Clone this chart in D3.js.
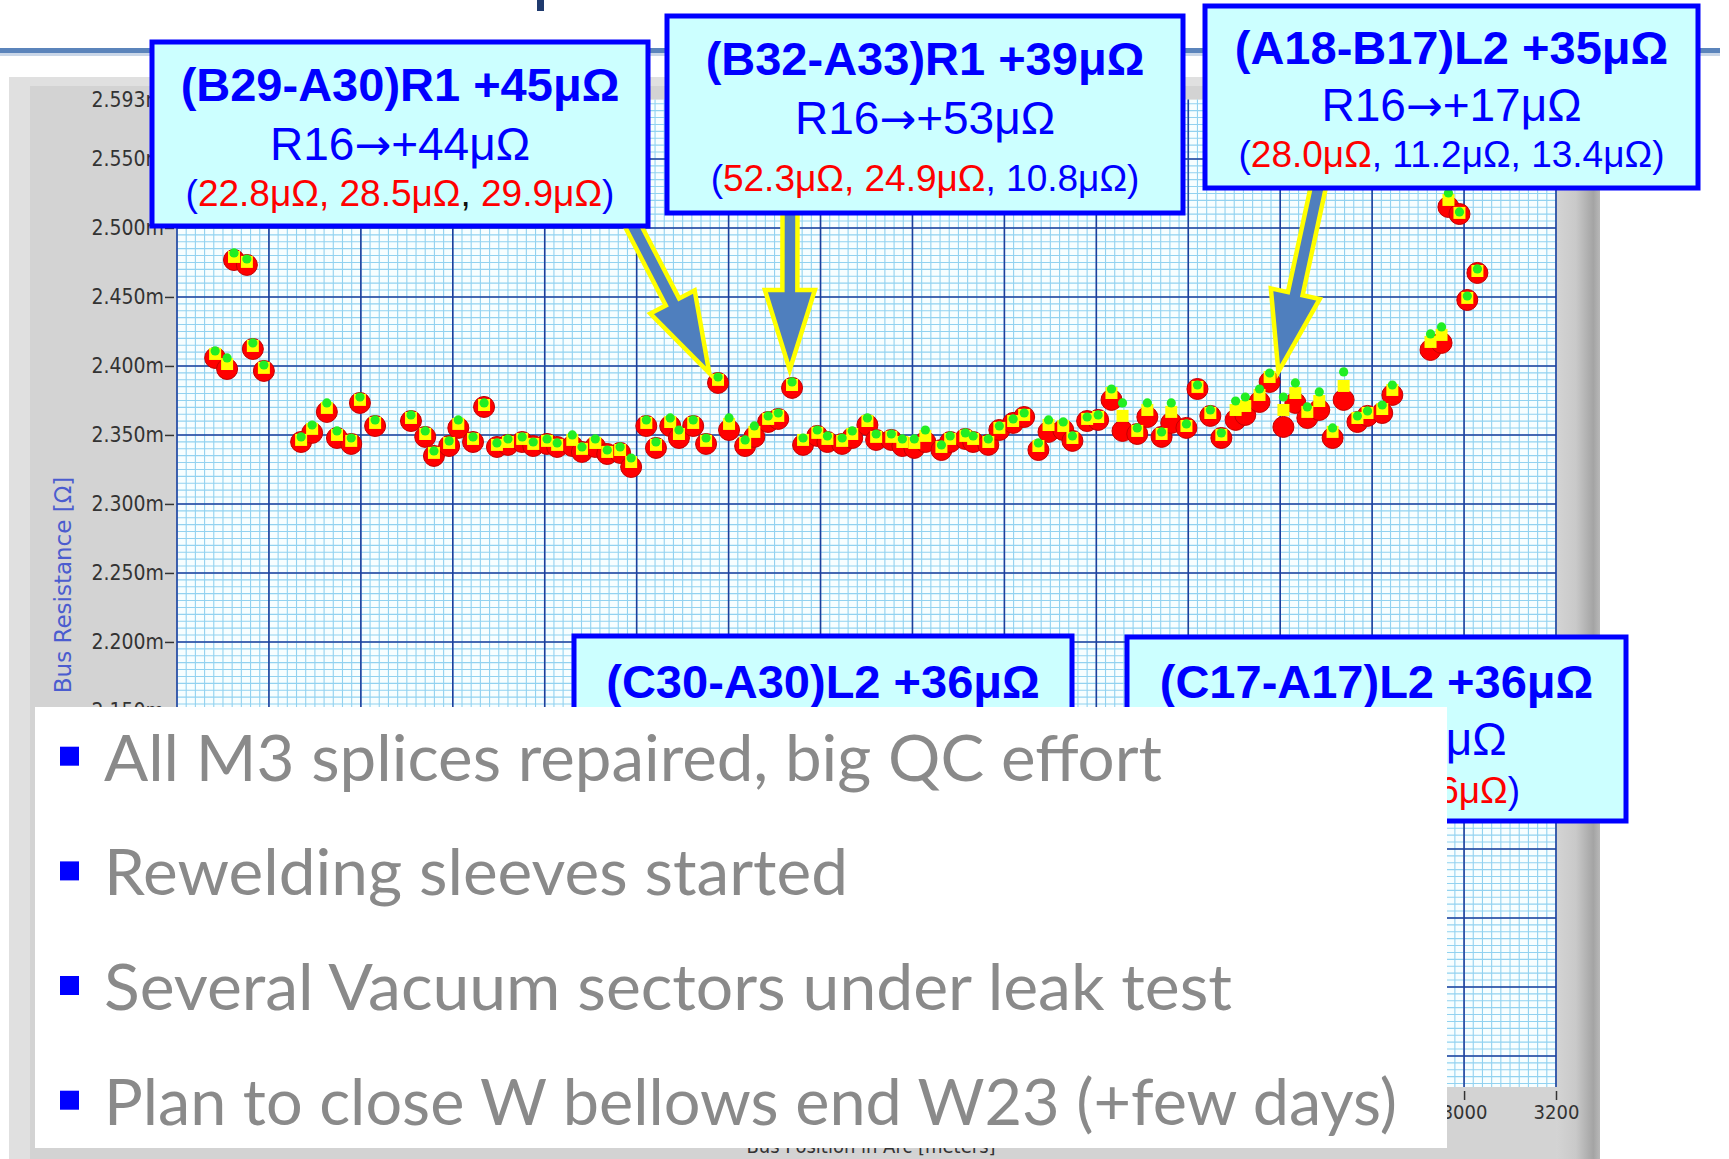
<!DOCTYPE html>
<html><head><meta charset="utf-8">
<script src="https://cdn.jsdelivr.net/npm/d3@7"></script>
<style>body{margin:0;background:#fff;overflow:hidden;} svg{display:block;}</style>
</head><body>
<svg id="c" width="1729" height="1159"></svg>
<script>
// ---------------- DATA ----------------
const busPosition = [283,309,324,352,365,389,470,494,526,548,579,598,631,709,740,759,792,812,844,868,
896,920,951,975,1005,1027,1060,1081,1110,1136,1164,1188,1221,1242,1273,1292,1323,1351,1377,1401,
1436,1456,1486,1508,1538,1562,1593,1615,1647,1669,1702,1721,1754,1778,1804,1828,1863,1882,1915,1932,
1965,1989,2019,2043,2074,2096,2128,2148,2180,2204,2233,2257,2289,2311,2342,2363,2396,2420,2448,2472,
2503,2524,2555,2577,2607,2633,2659,2685,2714,2738,2768,2790,2822,2844,2927,2951,2966,2990,3007,3029];

const resGreen = [2.4109,2.4058,2.4819,2.4775,2.4167,2.4007,2.3486,2.3572,2.3732,2.3529,
2.3478,2.3775,2.3609,2.3645,2.3529,2.3384,2.3457,2.3609,2.3486,2.3732,
2.3442,2.3471,2.3486,2.3449,2.3471,2.3442,2.3500,2.3413,2.3471,2.3391,
2.3413,2.3333,2.3609,2.3449,2.3623,2.3536,2.3609,2.3478,2.3920,2.3623,
2.3464,2.3565,2.3638,2.3659,2.3884,2.3478,2.3536,2.3493,2.3478,2.3529,
2.3623,2.3507,2.3507,2.3471,2.3471,2.3536,2.3428,2.3493,2.3515,2.3493,
2.3471,2.3565,2.3616,2.3659,2.3442,2.3609,2.3594,2.3493,2.3630,2.3645,
2.3833,2.3732,2.3551,2.3732,2.3522,2.3732,2.3580,2.3862,2.3681,2.3515,
2.3746,2.3775,2.3833,2.3949,2.3775,2.3877,2.3703,2.3812,2.3551,2.3957,
2.3638,2.3674,2.3717,2.3862,2.4232,2.4283,2.5254,2.5116,2.4507,2.4703];

const resYellow = [2.4087,2.4014,2.4790,2.4754,2.4145,2.3986,2.3464,2.3544,2.3696,2.3500,
2.3457,2.3754,2.3587,2.3623,2.3507,2.3370,2.3442,2.3580,2.3471,2.3717,
2.3428,2.3449,2.3471,2.3435,2.3457,2.3428,2.3464,2.3399,2.3442,2.3377,
2.3391,2.3304,2.3587,2.3428,2.3594,2.3507,2.3587,2.3457,2.3899,2.3580,
2.3442,2.3522,2.3616,2.3638,2.3862,2.3464,2.3515,2.3471,2.3457,2.3507,
2.3601,2.3486,2.3486,2.3449,2.3442,2.3493,2.3413,2.3471,2.3493,2.3471,
2.3449,2.3551,2.3601,2.3645,2.3420,2.3572,2.3565,2.3478,2.3616,2.3630,
2.3804,2.3638,2.3529,2.3681,2.3507,2.3667,2.3565,2.3848,2.3659,2.3500,
2.3681,2.3710,2.3790,2.3920,2.3681,2.3804,2.3667,2.3746,2.3522,2.3855,
2.3623,2.3659,2.3688,2.3826,2.4174,2.4225,2.5203,2.5109,2.4493,2.4688];

const resRed = [2.4058,2.3978,2.4768,2.4732,2.4123,2.3964,2.3449,2.3515,2.3667,2.3478,
2.3435,2.3732,2.3565,2.3601,2.3486,2.3348,2.3420,2.3551,2.3449,2.3703,
2.3413,2.3428,2.3449,2.3420,2.3435,2.3413,2.3420,2.3377,2.3413,2.3362,
2.3370,2.3268,2.3565,2.3406,2.3565,2.3478,2.3565,2.3435,2.3877,2.3536,
2.3420,2.3486,2.3594,2.3616,2.3841,2.3428,2.3493,2.3449,2.3435,2.3478,
2.3572,2.3464,2.3464,2.3420,2.3406,2.3449,2.3391,2.3449,2.3471,2.3449,
2.3428,2.3536,2.3587,2.3630,2.3391,2.3522,2.3536,2.3457,2.3601,2.3609,
2.3754,2.3529,2.3507,2.3630,2.3486,2.3587,2.3551,2.3833,2.3638,2.3478,
2.3609,2.3645,2.3739,2.3884,2.3558,2.3732,2.3623,2.3681,2.3478,2.3754,
2.3594,2.3638,2.3659,2.3790,2.4116,2.4167,2.5152,2.5101,2.4478,2.4674];

const yTickValues = [2.593,2.55,2.5,2.45,2.4,2.35,2.3,2.25,2.2,2.15,2.1,2.05,2.0,1.95,1.9];
const xTickValues = [200,400,600,800,1000,1200,1400,1600,1800,2000,2200,2400,2600,2800,3000,3200];
const yDomain = [1.8775, 2.593];
const xDomain = [200, 3200];
const yAxisTitle = "Bus Resistance [Ω]";
const xAxisTitle = "Bus Position in Arc [meters]";

const B = "#0000ff", R = "#ff0000", K = "#111111";
const boxTitles = ["(B29-A30)R1 +45μΩ","(B32-A33)R1 +39μΩ","(A18-B17)L2 +35μΩ","(C30-A30)L2 +36μΩ","(C17-A17)L2 +36μΩ"];
const boxR16 = [["R16","+44μΩ"],["R16","+53μΩ"],["R16","+17μΩ"],null,["R16","+32μΩ"]];
const boxSplices = [
  [["(",B],["22.8μΩ, 28.5μΩ",R],[", ",K],["29.9μΩ",R],[")",B]],
  [["(",B],["52.3μΩ, 24.9μΩ",R],[", 10.8μΩ)",B]],
  [["(",B],["28.0μΩ",R],[", 11.2μΩ, 13.4μΩ)",B]],
  null,
  [["(14.3μΩ, ",B],["21.6μΩ",R],[")",B]]
];
// arrow targets (bus position m, resistance mΩ)
const arrowTipPos = [1358, 1533, 2596];
const arrowTipVal = [2.3949, 2.3971, 2.3957];

const bullets = ["All M3 splices repaired, big QC effort","Rewelding sleeves started",
  "Several Vacuum sectors under leak test","Plan to close W bellows end W23 (+few days)"];

// ---------------- LAYOUT ----------------
const plot = {left:177, right:1556, top:99.6, bottom:1087};
const whiteBox = {x:35, y:707, w:1412, h:441};
const boxLayout = [
  {x:152,y:42,w:496,h:184,base:[101,160,206]},
  {x:667,y:16,w:516,h:197,base:[75,134,191]},
  {x:1205,y:6,w:493,h:182,base:[64,121,167]},
  {x:574,y:636,w:498,h:220,base:[698]},
  {x:1127,y:637,w:499,h:184,base:[698,755,803]}
];
const arrowTails = [[631,222],[790,208],[1319,184]];
const bulletBase = [780.7, 895.4, 1010, 1124.7];
const bulletWidths = [1058, 744, 1128, 1293];

const svg = d3.select("#c");
const defs = svg.append("defs");
const g1 = defs.append("linearGradient").attr("id","rg").attr("x1","0").attr("x2","1").attr("y1","0").attr("y2","0");
g1.append("stop").attr("offset","0").attr("stop-color","#d4d4d4");
g1.append("stop").attr("offset","0.45").attr("stop-color","#c9c9c9");
g1.append("stop").attr("offset","0.85").attr("stop-color","#a4a4a4");
g1.append("stop").attr("offset","1").attr("stop-color","#b8b8b8");

// title fragments & underline
svg.append("rect").attr("x",0).attr("y",53).attr("width",1720).attr("height",3).attr("fill","#c9d6e8");
svg.append("rect").attr("x",0).attr("y",48).attr("width",1720).attr("height",5).attr("fill","#5b84bb");
svg.append("rect").attr("x",537).attr("y",0).attr("width",7).attr("height",11).attr("fill","#1f3a6e");

// gray panel
svg.append("rect").attr("x",9).attr("y",77).attr("width",1591).attr("height",1100).attr("fill","#e0e0e0");
svg.append("rect").attr("x",30).attr("y",86).attr("width",1526).attr("height",1090).attr("fill","#d3d3d3");
svg.append("rect").attr("x",1556).attr("y",77).attr("width",44).attr("height",1100).attr("fill","url(#rg)");

const x = d3.scaleLinear().domain(xDomain).range([plot.left, plot.right]);
const y = d3.scaleLinear().domain(yDomain).range([plot.bottom, plot.top]);

// plot background & grid
svg.append("rect").attr("x",plot.left).attr("y",plot.top).attr("width",plot.right-plot.left)
  .attr("height",plot.bottom-plot.top).attr("fill","#f7feff");
const grid = svg.append("g");
const minorX = d3.range(xDomain[0], xDomain[1]+0.1, 20);
const minorY = d3.range(1.88, yDomain[1], 0.005);
grid.selectAll(".mx").data(minorX).join("line")
  .attr("x1",d=>x(d)).attr("x2",d=>x(d)).attr("y1",plot.top).attr("y2",plot.bottom)
  .attr("stroke","#92d2f0").attr("stroke-width",1.1);
grid.selectAll(".my").data(minorY).join("line")
  .attr("y1",d=>y(d)).attr("y2",d=>y(d)).attr("x1",plot.left).attr("x2",plot.right)
  .attr("stroke","#92d2f0").attr("stroke-width",1.1);
grid.selectAll(".Mx").data(xTickValues).join("line")
  .attr("x1",d=>x(d)).attr("x2",d=>x(d)).attr("y1",plot.top).attr("y2",plot.bottom)
  .attr("stroke","#1d3f9c").attr("stroke-width",1.6);
grid.selectAll(".My").data(yTickValues.slice(1)).join("line")
  .attr("y1",d=>y(d)).attr("y2",d=>y(d)).attr("x1",plot.left).attr("x2",plot.right)
  .attr("stroke","#1d3f9c").attr("stroke-width",1.6);

// axes
const yAxis = svg.append("g").attr("transform",`translate(${plot.left-3},0)`)
  .call(d3.axisLeft(y).tickValues(yTickValues).tickFormat(d=>d.toFixed(3)+"m").tickSize(9).tickPadding(1));
yAxis.select(".domain").remove();
yAxis.selectAll("line").attr("stroke","#333").attr("stroke-width",1.5);
yAxis.selectAll("text").attr("font-family","'DejaVu Sans Condensed','DejaVu Sans'").attr("font-size",21).attr("fill","#333");
// labels fully hidden behind the bullet panel are not drawn
yAxis.selectAll(".tick").filter(d=>y(d) > whiteBox.y + 12).select("text").remove();

const xAxis = svg.append("g").attr("transform",`translate(0,${plot.bottom+4})`)
  .call(d3.axisBottom(x).tickValues(xTickValues).tickFormat(d3.format("d")).tickSize(9).tickPadding(5));
xAxis.select(".domain").remove();
xAxis.selectAll("line").attr("stroke","#333").attr("stroke-width",1.5);
xAxis.selectAll("text").attr("font-family","'DejaVu Sans Condensed','DejaVu Sans'").attr("font-size",20).attr("fill","#333");
xAxis.selectAll(".tick").filter(d=>x(d) + 10 < whiteBox.x + whiteBox.w).select("text").remove();

svg.append("text").attr("transform","translate(71,585) rotate(-90)").attr("text-anchor","middle")
  .attr("font-family","'DejaVu Sans'").attr("font-size",23).attr("fill","#4b5ccf").text(yAxisTitle);
svg.append("text").attr("x",871).attr("y",1153).attr("text-anchor","middle")
  .attr("font-family","'DejaVu Sans Condensed','DejaVu Sans'").attr("font-size",20).attr("fill","#333").text(xAxisTitle);

// markers
const pts = busPosition.map((p,i)=>({p, r:resRed[i], yl:resYellow[i], g:resGreen[i]}));
const mk = svg.append("g");
mk.selectAll(".red").data(pts).join("circle")
  .attr("cx",d=>x(d.p)).attr("cy",d=>y(d.r)).attr("r",10.5)
  .attr("fill","#ff0000").attr("stroke","#c40000").attr("stroke-width",1);
mk.selectAll(".yel").data(pts).join("rect")
  .attr("x",d=>x(d.p)-6).attr("y",d=>y(d.yl)-6).attr("width",12).attr("height",12)
  .attr("fill","#ffff00");
mk.selectAll(".grn").data(pts).join("circle")
  .attr("cx",d=>x(d.p)).attr("cy",d=>y(d.g)).attr("r",4.6)
  .attr("fill","#22ee22");

// arrows
function arrowPath(tx,ty,hx,hy){
  const dx=hx-tx, dy=hy-ty, L=Math.hypot(dx,dy), ux=dx/L, uy=dy/L, nx=-uy, ny=ux;
  const w=7.5, hw=25, hl=80;
  const nxp=hx-ux*hl, nyp=hy-uy*hl;
  const P=[[tx+nx*w,ty+ny*w],[nxp+nx*w,nyp+ny*w],[nxp+nx*hw,nyp+ny*hw],[hx,hy],
           [nxp-nx*hw,nyp-ny*hw],[nxp-nx*w,nyp-ny*w],[tx-nx*w,ty-ny*w]];
  return "M"+P.map(p=>p.join(",")).join("L")+"Z";
}
svg.append("g").selectAll("path").data(arrowTails).join("path")
  .attr("d",(t,i)=>arrowPath(t[0],t[1],x(arrowTipPos[i]),y(arrowTipVal[i])))
  .attr("fill","#4f7fbe").attr("stroke","#ffff00").attr("stroke-width",4.5).attr("stroke-linejoin","miter");

// annotation boxes
const bx = svg.append("g");
boxLayout.forEach((b,i)=>{
  const g = bx.append("g");
  g.append("rect").attr("x",b.x).attr("y",b.y).attr("width",b.w).attr("height",b.h)
    .attr("fill","#ccffff").attr("stroke","#0000ff").attr("stroke-width",5);
  const cx = b.x+b.w/2;
  g.append("text").attr("x",cx).attr("y",b.base[0]).attr("text-anchor","middle")
    .attr("font-family","'Liberation Sans',Arial").attr("font-weight","bold").attr("font-size",47)
    .attr("fill","#0000ff").text(boxTitles[i]);
  if(boxR16[i]){
    const t = g.append("text").attr("x",cx).attr("y",b.base[1]).attr("text-anchor","middle")
      .attr("font-family","'Liberation Sans',Arial").attr("font-size",46).attr("fill","#0000ff");
    t.append("tspan").text(boxR16[i][0]);
    t.append("tspan").attr("font-family","'DejaVu Sans'").attr("font-size",44).text("→");
    t.append("tspan").text(boxR16[i][1]);
  }
  if(boxSplices[i]){
    const t = g.append("text").attr("x",cx).attr("y",b.base[2]).attr("text-anchor","middle")
      .attr("font-family","'Liberation Sans',Arial").attr("font-size",37);
    boxSplices[i].forEach(s=>t.append("tspan").attr("fill",s[1]).text(s[0]));
  }
});

// white bullet box
svg.append("rect").attr("x",whiteBox.x).attr("y",whiteBox.y).attr("width",whiteBox.w).attr("height",whiteBox.h).attr("fill","#ffffff");
const bl = svg.append("g");
bullets.forEach((s,i)=>{
  bl.append("rect").attr("x",60).attr("y",bulletBase[i]-34).attr("width",19).attr("height",19).attr("fill","#0000ff");
  bl.append("text").attr("x",104).attr("y",bulletBase[i]).attr("font-family","Lato,'Open Sans'")
    .attr("font-size",64).attr("fill","#8a8a8a").attr("textLength",bulletWidths[i])
    .attr("lengthAdjust","spacingAndGlyphs").text(s);
});
</script>
</body></html>
